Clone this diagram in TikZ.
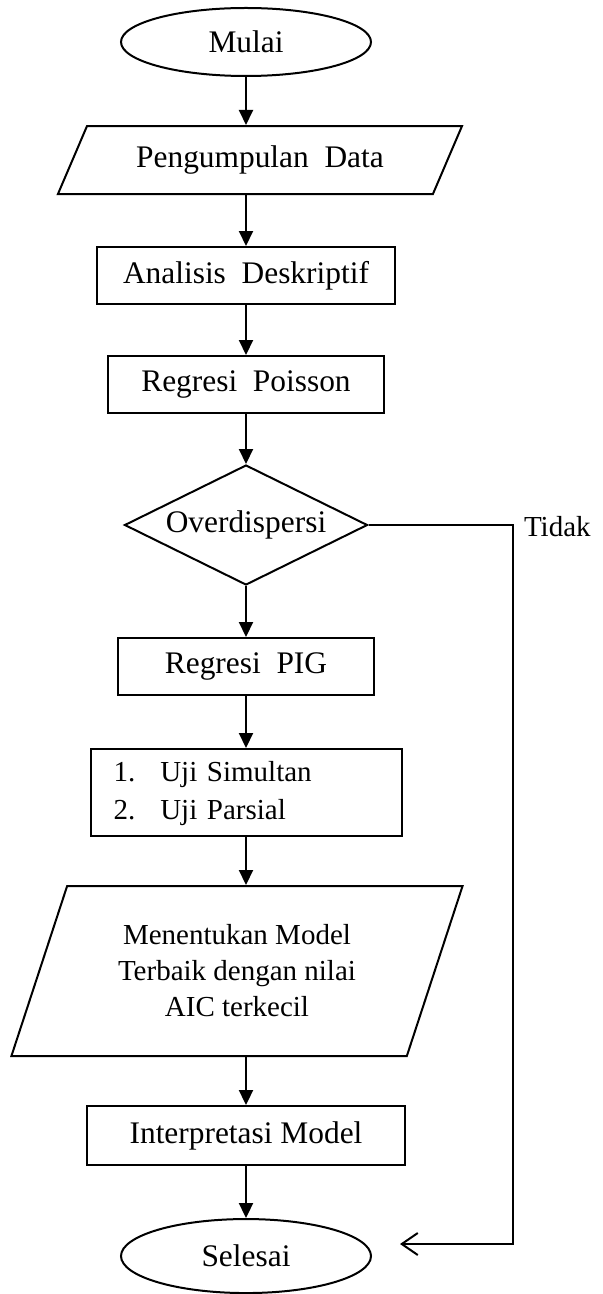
\documentclass[tikz,border=0pt]{standalone}
\usepackage{fontspec}
\setmainfont{Liberation Serif}
\usetikzlibrary{positioning,shapes.geometric,arrows.meta}

\begin{document}
\begin{tikzpicture}[x=0.5pt, y=-0.5pt, node distance=25pt, line width=1pt,
    font=\fontsize{15.7}{18}\selectfont,
    terminal/.style={ellipse, draw, minimum width=125pt, minimum height=34pt, inner sep=0pt},
    proses/.style={rectangle, draw, minimum height=28.5pt, inner sep=0pt},
    io/.style={trapezium, draw, trapezium stretches=true, inner sep=0pt},
    keputusan/.style={diamond, draw, aspect=2.025, minimum width=121.5pt, minimum height=60pt, inner sep=0pt},
    kecil/.style={font=\fontsize{14.5}{18}\selectfont},
    panah/.style={-{Triangle[length=7.5pt,width=7pt]}}]
  \useasboundingbox (0,0) rectangle (602,1294);

  \node[terminal] (mulai) at (246,42) {Mulai};
  \node[io, below=24pt of mulai, xshift=7pt, minimum width=202.5pt, minimum height=34pt,
    trapezium left angle=53.9, trapezium right angle=126.1] (pengumpulan) {Pengumpulan\ \ Data};
  \node[proses, below=25.5pt of pengumpulan, xshift=-7pt, minimum width=149pt] (analisis) {Analisis\ \ Deskriptif};
  \node[proses, below=of analisis, minimum width=138pt] (poisson) {Regresi\ \ Poisson};
  \node[keputusan, below=of poisson] (overdispersi) {Overdispersi};
  \node[proses, below=25.5pt of overdispersi, minimum width=128pt] (regresi_pig) {Regresi\ \ PIG};
  \node[proses, kecil, below=26pt of regresi_pig, minimum height=43.5pt, inner xsep=11.5pt,
    text width=132.5pt, align=left] (uji) {\fontsize{14.5}{19}\selectfont
    \begin{tabular}{@{}l@{\hspace{12.5pt}}l@{}}1. & Uji Simultan\\ 2. & Uji Parsial\end{tabular}};
  \node[io, kecil, below=24pt of uji, xshift=-4.5pt, minimum width=226pt, minimum height=85pt, align=center,
    trapezium left angle=67.1, trapezium right angle=112.9] (model_terbaik)
    {Menentukan Model\\Terbaik dengan nilai\\AIC terkecil};
  \node[proses, below=24pt of model_terbaik, xshift=4.5pt, minimum width=159pt, minimum height=29.5pt] (interpretasi) {Interpretasi Model};
  \node[terminal, below=26pt of interpretasi, minimum height=37pt] (selesai) {Selesai};

  \draw[panah] (mulai) -- (mulai |- pengumpulan.north);
  \draw[panah] (pengumpulan.south -| analisis) -- (analisis);
  \draw[panah] (analisis) -- (poisson);
  \draw[panah] (poisson) -- (overdispersi);
  \draw[panah] (overdispersi) -- (regresi_pig);
  \draw[panah] (regresi_pig) -- (uji);
  \draw[panah] (uji) -- (uji |- model_terbaik.north);
  \draw[panah] (model_terbaik.south -| interpretasi) -- (interpretasi);
  \draw[panah] (interpretasi) -- (selesai);

  % jalur "Tidak" langsung ke selesai
  \node[kecil, anchor=west, inner sep=0pt] (tidak) at (523,527) {Tidak};
  \coordinate (belok) at (513,1244);
  \coordinate (ujung_tidak) at (400,1244);
  \draw[-{Straight Barb[length=8pt,width=11pt]}] (overdispersi.east) -| (belok) -- (ujung_tidak);
\end{tikzpicture}
\end{document}
